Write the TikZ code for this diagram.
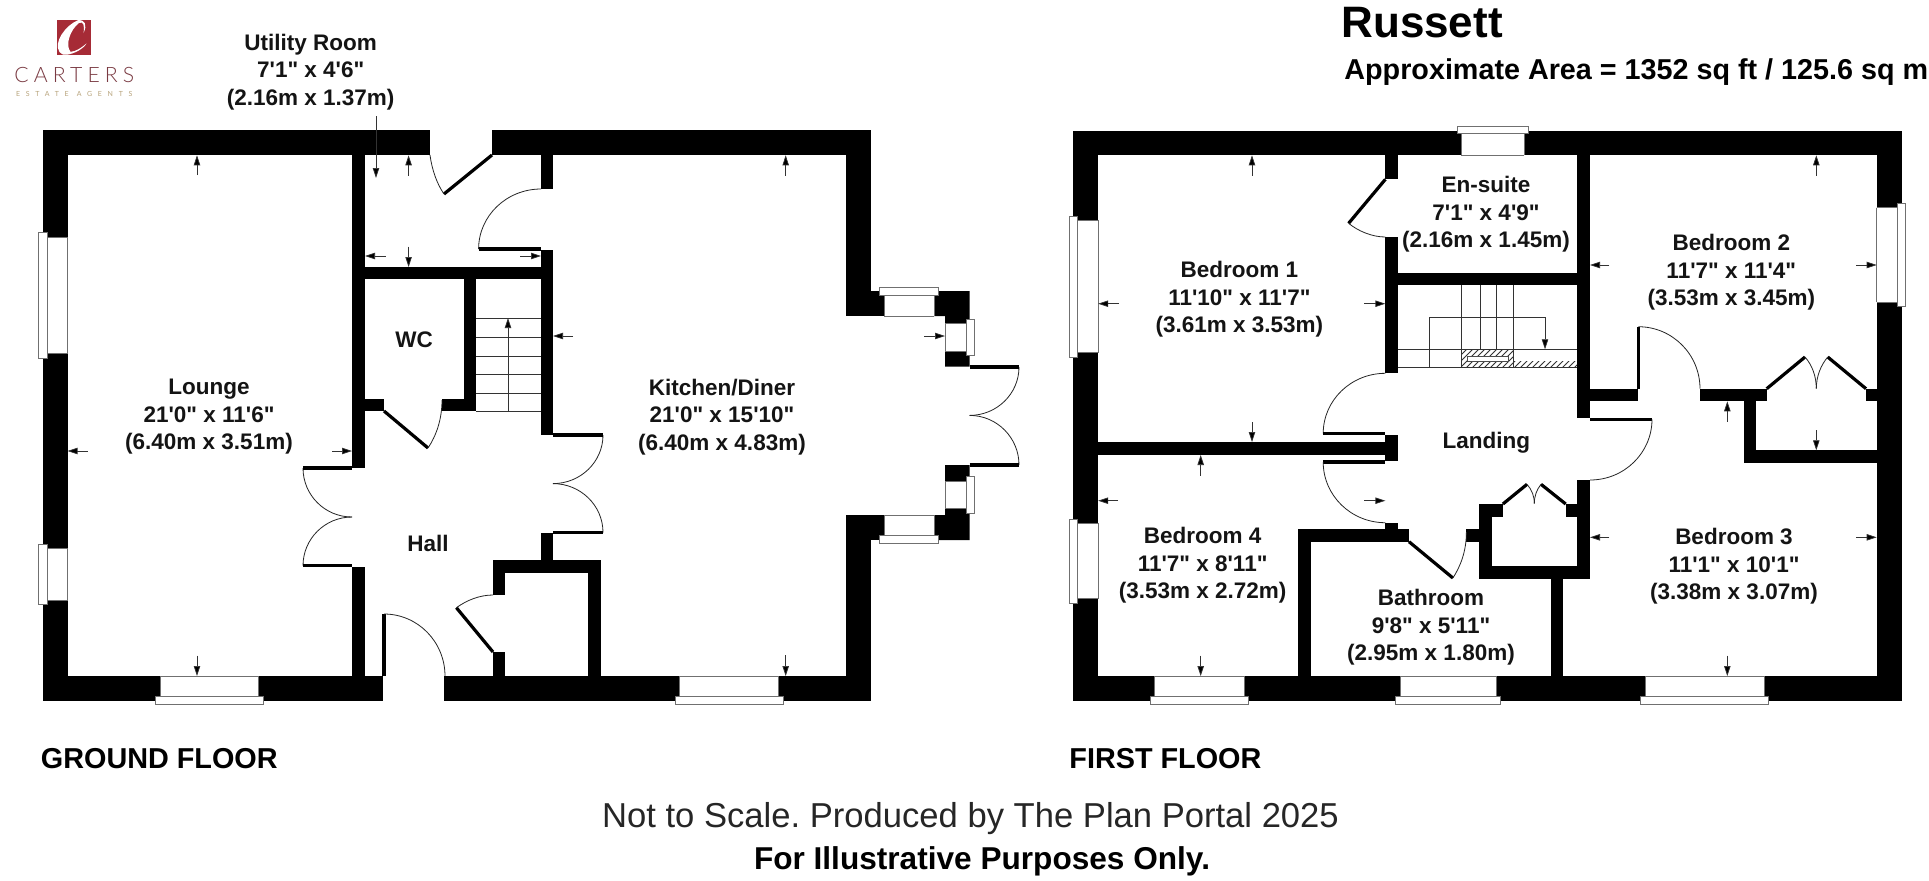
\documentclass[tikz,border=0pt]{standalone}
\usepackage{fontspec}
\usetikzlibrary{arrows.meta,calc,patterns}
\newfontfamily\planfont{Liberation Sans}
\newfontfamily\logofont[LetterSpace=24]{Lato Light}
\newfontfamily\logosmall[LetterSpace=82]{Lato}
\definecolor{logored}{HTML}{A62B36}
\definecolor{logotext}{HTML}{7A3A42}
\definecolor{logotan}{HTML}{B8A47C}
\definecolor{framegray}{HTML}{707070}
\tikzset{
  wall/.style={fill=black,draw=none},
  leaf/.style={draw=black,line width=1.6pt,line cap=butt},
  swing/.style={draw=black!85,line width=0.4pt},
  pane/.style={draw=framegray,fill=white,line width=0.4pt},
  dim/.style={draw=black!80,line width=0.35pt,-{Triangle[length=5pt,width=3.2pt,fill=black]}},
  tread/.style={draw=black!80,line width=0.35pt},
  room/.style={font=\planfont\bfseries\fontsize{11.25}{13.75}\selectfont,align=center,inner sep=0pt,text=black!92},
  floorname/.style={font=\planfont\bfseries\fontsize{14.4}{16}\selectfont,inner sep=0pt,anchor=west}
}
\newcommand{\wl}[4]{\fill[wall] (#1,#2) rectangle (#3,#4);}
% quarter arc from A to B, bulging toward corner K
\newcommand{\qarc}[3]{\draw[swing] (#1) .. controls ($(#1)!.5523!(#3)$) and ($(#2)!.5523!(#3)$) .. (#2);}
\newcommand{\dimar}[2]{\draw[dim] (#1) -- (#2);}
% window in a horizontal wall: x1 x2 outerx1 outerx2 ywalltop ywallbottom yline youter
\newcommand{\hwin}[8]{%
  \filldraw[pane] (#3,#7) rectangle (#4,#8);
  \fill[white] (#1,#5) rectangle (#2,#6);
  \draw[pane] (#1,#5) -- (#2,#5) (#1,#7) -- (#2,#7) (#1,#5) -- (#1,#7) (#2,#5) -- (#2,#7);}
% window in a vertical wall: y1 y2 outery1 outery2 xwallin xwallout xline xouter
\newcommand{\vwin}[8]{%
  \filldraw[pane] (#7,#3) rectangle (#8,#4);
  \fill[white] (#5,#1) rectangle (#6,#2);
  \draw[pane] (#5,#1) -- (#5,#2) (#7,#1) -- (#7,#2) (#5,#1) -- (#7,#1) (#5,#2) -- (#7,#2);}
\begin{document}
\frenchspacing
\begin{tikzpicture}[x=0.5pt,y=-0.5pt]
\useasboundingbox (0,0) rectangle (1929,880);
\fill[white] (0,0) rectangle (1929,880);

% ---------- LOGO ----------
\fill[logored] (56.7,20) rectangle (91.3,54.7);
\fill[white] (78,20.2) .. controls (66,25) and (53,42) .. (59.5,52)
  .. controls (61,54.5) and (64,55.2) .. (67,54.7)
  .. controls (75,53.5) and (83,49) .. (86.5,43.5)
  .. controls (81,48) and (76,51.5) .. (70.5,51.8)
  .. controls (65,45) and (70,30) .. (79,23)
  .. controls (83,21) and (85,25) .. (83.5,33)
  .. controls (87.5,25) and (85,19.5) .. (78,20.2) -- cycle;
\node[inner sep=0pt,text=logotext,font=\logofont\fontsize{10.6}{12}\selectfont] (carters) at (74.3,75) {CARTERS};
\node[inner sep=0pt,text=logotan,font=\logosmall\fontsize{3.5}{5}\selectfont] (estate) at (74.3,94) {ESTATE\hspace*{4pt}AGENTS};

% ---------- GROUND FLOOR ----------
\wl{42.5}{130.3}{430}{155.3}
\wl{492}{130.3}{871}{155.3}
\wl{42.5}{130.3}{67.5}{701}
\wl{42.5}{676}{383}{701}
\wl{444}{676}{871}{701}
\wl{352}{155}{365}{468}
\wl{352}{566.7}{365}{676}
\wl{541}{155}{553}{189}
\wl{541}{250}{553}{435}
\wl{541}{533}{553}{572}
\wl{352}{266.7}{553}{279.3}
\wl{463.6}{279}{476.4}{411}
\wl{365}{398.7}{384}{411}
\wl{442}{398.7}{476.4}{411}
\wl{493}{560}{600.7}{572.7}
\wl{493}{560}{505.4}{595}
\wl{493}{652}{505.4}{676}
\wl{587.5}{560}{600.7}{676}
\wl{846}{130.3}{871}{316}
\wl{846}{291}{884}{316}
\wl{846}{515}{884}{540}
\wl{846}{515}{871}{701}
\fill[wall] (934,291) -- (969.6,291) -- (969.6,366.5) -- (945,366.5) -- (945,316) -- (934,316) -- cycle;
\fill[wall] (934,540) -- (969.6,540) -- (969.6,465) -- (945,465) -- (945,515) -- (934,515) -- cycle;
% ground windows
\hwin{160}{258}{155.7}{263.6}{676}{701}{696}{704.7}
\hwin{679.6}{778.6}{675.7}{783}{676}{701}{696}{704.7}
\vwin{237}{353}{232.7}{358}{67.5}{42.5}{47}{38}
\vwin{548}{600}{544}{604}{67.5}{42.5}{47}{38}
\hwin{884}{934}{879}{938.6}{316}{291}{295}{287}
\hwin{884}{934}{879}{938.6}{515}{540}{535}{543.6}
\vwin{323}{351.5}{319}{355}{945}{969.6}{966}{974}
\vwin{481}{508.4}{476}{513.4}{945}{969.6}{966}{974}
% ground doors
\draw[leaf] (492,155) -- (444,194);
\coordinate (ua) at (430,155); \coordinate (ub) at (444,194);
\draw[swing] (ua) .. controls (432,170) and (437,184) .. (ub);
\coordinate (ka) at (541,189); \coordinate (kb) at (478.6,249); \coordinate (kk) at (478.6,189);
\qarc{ka}{kb}{kk}
\draw[leaf] (478.6,249) -- (541,249);
\draw[leaf] (384,411) -- (428,448);
\draw[swing] (428,448) .. controls (436,436) and (442,420) .. (442,400);
\coordinate (ha) at (303,468); \coordinate (hb) at (352,517); \coordinate (hk) at (303,517);
\qarc{ha}{hb}{hk}
\coordinate (hc) at (303,565.7); \coordinate (hl) at (303,517);
\qarc{hc}{hb}{hl}
\draw[leaf] (303,468) -- (352,468);
\draw[leaf] (303,565.7) -- (352,565.7);
\coordinate (kca) at (603,435); \coordinate (kcm) at (553,483.6); \coordinate (kcb) at (603,532.5); \coordinate (kcl) at (603,483.6);
\qarc{kca}{kcm}{kcl}
\qarc{kcb}{kcm}{kcl}
\draw[leaf] (553,435) -- (603,435);
\draw[leaf] (553,532.5) -- (603,532.5);
\coordinate (pa) at (1019,367); \coordinate (pm) at (969.6,415.4); \coordinate (pb) at (1019,465); \coordinate (pl) at (1019,415.4);
\qarc{pa}{pm}{pl}
\qarc{pb}{pm}{pl}
\draw[leaf] (969.6,367) -- (1019,367);
\draw[leaf] (969.6,465) -- (1019,465);
\draw[leaf] (384,676) -- (384,614);
\coordinate (fa) at (384,614); \coordinate (fb) at (445,676); \coordinate (fk) at (445,614);
\qarc{fa}{fb}{fk}
\draw[leaf] (493,652) -- (456.4,607.7);
\draw[swing] (456.4,607.7) .. controls (467,600) and (480,595) .. (493,595);
% ground stairs
\foreach \yy in {318,337,356,374,393,411}{\draw[tread] (476.4,\yy) -- (541,\yy);}
\dimar{508,411}{508,318}
% ground dimension arrows
\dimar{197,175}{197,155.3}
\dimar{87.5,451}{67.5,451}
\dimar{332,451}{352,451}
\dimar{197,655.7}{197,676}
\dimar{376,116}{376,178}
\dimar{408.6,175.7}{408.6,155.3}
\dimar{385.7,256}{365,256}
\dimar{408.6,246.7}{408.6,267}
\dimar{520,256}{541,256}
\dimar{785.7,175.5}{785.7,155.3}
\dimar{785.7,655}{785.7,676}
\dimar{573,336}{553,336}
\dimar{924,336}{945,336}
% ground labels
\node[room] (utility) at (310.7,72) {Utility Room\\7'1" x 4'6"\\(2.16m x 1.37m)};
\node[room] (lounge) at (209,417) {Lounge\\21'0" x 11'6"\\(6.40m x 3.51m)};
\node[room] (wc) at (414,340) {WC};
\node[room] (hall) at (428,543.5) {Hall};
\node[room] (kitchen) at (722,417) {Kitchen/Diner\\21'0" x 15'10"\\(6.40m x 4.83m)};
\node[floorname] (gf) at (40.5,759) {GROUND FLOOR};

% ---------- FIRST FLOOR ----------
\wl{1073.2}{130.5}{1901.7}{155.3}
\wl{1073.2}{130.5}{1098.2}{701}
\wl{1876.7}{130.5}{1901.7}{701}
\wl{1073.2}{676}{1901.7}{701}
\wl{1385.4}{155}{1397.5}{179.3}
\wl{1385.4}{237}{1397.5}{373.3}
\wl{1397}{273.3}{1577}{285.3}
\wl{1577}{155}{1590}{418.3}
\wl{1385.4}{435}{1397.5}{461}
\wl{1098}{442}{1385.4}{455}
\wl{1385.4}{522.7}{1397.5}{529}
\wl{1298.2}{529}{1409}{541.7}
\wl{1298.2}{529}{1311}{676}
\wl{1466.4}{529}{1478.6}{541.7}
\wl{1478.6}{504}{1492}{578.7}
\wl{1478.6}{504}{1502.9}{517.3}
\wl{1565.7}{504}{1577}{517.3}
\wl{1478.6}{566.3}{1590}{578.7}
\wl{1577}{480}{1590}{578.7}
\wl{1550.7}{578}{1563}{676}
\wl{1590}{388.7}{1638.3}{401.3}
\wl{1700}{388.7}{1766.7}{401.3}
\wl{1743.7}{401}{1756}{463}
\wl{1743.7}{450.3}{1876.7}{463}
\wl{1866}{388.7}{1876.7}{401.3}
% first windows
\hwin{1461}{1524}{1457}{1528.6}{155.3}{130.5}{133}{126}
\vwin{220}{352.7}{216}{357}{1098.2}{1073.2}{1077}{1069}
\vwin{523.3}{598.7}{519.3}{603.3}{1098.2}{1073.2}{1077}{1069}
\vwin{207.7}{302}{203.3}{306}{1876.7}{1901.7}{1897}{1905.7}
\hwin{1154.3}{1244}{1150.4}{1248}{676}{701}{696.7}{704.7}
\hwin{1400.4}{1496.4}{1395.7}{1500.7}{676}{701}{696.7}{704.7}
\hwin{1645}{1764}{1640.7}{1768.7}{676}{701}{696.7}{704.7}
% first doors
\draw[leaf] (1385.4,179.3) -- (1348.6,223.3);
\draw[swing] (1348.6,223.3) .. controls (1358,231) and (1372,237) .. (1385.4,237);
\coordinate (ba) at (1385.4,373.3); \coordinate (bb) at (1323.2,433.5); \coordinate (bk) at (1323.2,373.3);
\qarc{ba}{bb}{bk}
\draw[leaf] (1323.2,433.5) -- (1385.4,433.5);
\draw[leaf] (1323.2,462) -- (1385.4,462);
\coordinate (ca) at (1323.2,462); \coordinate (cb) at (1385.4,522.7); \coordinate (ck) at (1323.2,522.7);
\qarc{ca}{cb}{ck}
\draw[leaf] (1409,541.7) -- (1452.9,578);
\draw[swing] (1452.9,578) .. controls (1460,567) and (1466.4,552) .. (1466.4,532);
\draw[leaf] (1502.9,504) -- (1527,484.3);
\draw[leaf] (1565.7,504) -- (1541,484.3);
\draw[swing] (1527,484.3) .. controls (1532,490) and (1534.3,496) .. (1534.3,503.7);
\draw[swing] (1541,484.3) .. controls (1536.5,490) and (1534.3,496) .. (1534.3,503.7);
\draw[leaf] (1638.3,388.7) -- (1638.3,326.7);
\coordinate (da) at (1638.3,326.7); \coordinate (db) at (1700,388.7); \coordinate (dk) at (1700,326.7);
\qarc{da}{db}{dk}
\draw[leaf] (1766.7,388.7) -- (1805,357);
\draw[leaf] (1866,388.7) -- (1827.7,357);
\draw[swing] (1805,357) .. controls (1812,365) and (1816.3,376) .. (1816.3,388.7);
\draw[swing] (1827.7,357) .. controls (1821,365) and (1816.3,376) .. (1816.3,388.7);
\draw[leaf] (1590,419.3) -- (1652,419.3);
\coordinate (ea) at (1652,419.3); \coordinate (eb) at (1590,480); \coordinate (ek) at (1652,480);
\qarc{ea}{eb}{ek}
% first stairs
\fill[pattern=north east lines,pattern color=black!80] (1461.7,349.3) rectangle (1513.3,367.7);
\fill[pattern=north east lines,pattern color=black!80] (1513.3,361.7) rectangle (1577,367.7);
\filldraw[draw=black!70,fill=white,line width=0.3pt] (1467.3,356.7) rectangle (1508.3,361.7);
\draw[tread] (1397.5,349.3) -- (1577,349.3) (1397.5,367.7) -- (1577,367.7);
\draw[tread] (1461.7,285.3) -- (1461.7,367.7) (1513.3,285.3) -- (1513.3,367.7)
  (1480,285.3) -- (1480,349.3) (1496.7,285.3) -- (1496.7,349.3);
\draw[tread] (1461.7,349.3) -- (1461.7,367.7) -- (1513.3,367.7);
\draw[dim] (1429.3,367.7) -- (1429.3,317.3) -- (1545,317.3) -- (1545,349.3);
% first dimension arrows
\dimar{1252,175.7}{1252,155.3}
\dimar{1119,303.7}{1098.2,303.7}
\dimar{1364.3,303.7}{1385.4,303.7}
\dimar{1252,422}{1252,442}
\dimar{1200.7,475.7}{1200.7,455}
\dimar{1118,500.7}{1098.2,500.7}
\dimar{1364.3,500.7}{1385.4,500.7}
\dimar{1200.7,655.7}{1200.7,676}
\dimar{1816.3,175.7}{1816.3,155.3}
\dimar{1609.3,265}{1590,265}
\dimar{1856,265}{1876.7,265}
\dimar{1727.3,421.7}{1727.3,401.3}
\dimar{1816.3,430}{1816.3,450.3}
\dimar{1609.3,537.3}{1590,537.3}
\dimar{1856,537.3}{1876.7,537.3}
\dimar{1727.3,655.7}{1727.3,676}
% first labels
\node[room] (bed1) at (1239.4,299.5) {Bedroom 1\\11'10" x 11'7"\\(3.61m x 3.53m)};
\node[room] (ensuite) at (1486,214.5) {En-suite\\7'1" x 4'9"\\(2.16m x 1.45m)};
\node[room] (landing) at (1486.4,442.5) {Landing};
\node[room] (bed2) at (1731.3,272.5) {Bedroom 2\\11'7" x 11'4"\\(3.53m x 3.45m)};
\node[room] (bed4) at (1202.6,565.5) {Bedroom 4\\11'7" x 8'11"\\(3.53m x 2.72m)};
\node[room] (bath) at (1431,627.5) {Bathroom\\9'8" x 5'11"\\(2.95m x 1.80m)};
\node[room] (bed3) at (1734,566.5) {Bedroom 3\\11'1" x 10'1"\\(3.38m x 3.07m)};
\node[floorname] (ff) at (1069,759) {FIRST FLOOR};

% ---------- TITLES ----------
\node[inner sep=0pt,anchor=west,font=\planfont\bfseries\fontsize{22}{24}\selectfont] (title) at (1341,23) {Russett};
\node[inner sep=0pt,anchor=west,font=\planfont\bfseries\fontsize{14.37}{16}\selectfont] (area) at (1344,72.5) {Approximate Area = 1352 sq ft / 125.6 sq m};
\node[inner sep=0pt,font=\planfont\fontsize{17.3}{20}\selectfont,text=black!85] (scale) at (970.5,818.5) {Not to Scale. Produced by The Plan Portal 2025};
\node[inner sep=0pt,font=\planfont\bfseries\fontsize{15.8}{18}\selectfont] (illus) at (982,861.5) {For Illustrative Purposes Only.};
\end{tikzpicture}
\end{document}
